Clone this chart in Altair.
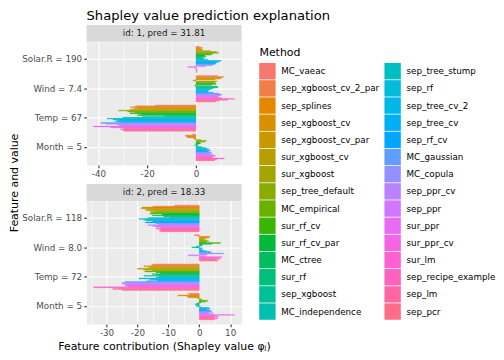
import math
import altair as alt
import pandas as pd

# ---------------- data ----------------
methods = ["MC_vaeac", "sep_xgboost_cv_2_par", "sep_splines", "sep_xgboost_cv",
           "sep_xgboost_cv_par", "sur_xgboost_cv", "sur_xgboost", "sep_tree_default",
           "MC_empirical", "sur_rf_cv", "sur_rf_cv_par", "MC_ctree", "sur_rf",
           "sep_xgboost", "MC_independence", "sep_tree_stump", "sep_rf", "sep_tree_cv_2",
           "sep_tree_cv", "sep_rf_cv", "MC_gaussian", "MC_copula", "sep_ppr_cv", "sep_ppr",
           "sur_ppr", "sur_ppr_cv", "sur_lm", "sep_recipe_example", "sep_lm", "sep_pcr"]

features_1 = ["Solar.R = 190", "Wind = 7.4", "Temp = 67", "Month = 5"]
features_2 = ["Solar.R = 118", "Wind = 8.0", "Temp = 72", "Month = 5"]
strip_1 = "id: 1, pred = 31.81"
strip_2 = "id: 2, pred = 18.33"

id1_solar = [1.2, 2.5, 2.0, 2.8, 2.3, 6.0, 8.5, 9.3, 7.0, 6.2, 3.5, 4.0, 2.5, 3.5, 3.0,
             5.0, 10.3, 9.5, 8.5, 8.0, 7.6, 6.5, 4.0, -3.4, -0.5, 0.4, 0.3, 0.5, 0.2, 0.3]
id1_wind = [9.0, 11.3, 10.5, 10.0, 7.8, -1.2, 8.6, 7.5, 8.0, 8.2, 6.5, -0.5, 8.8, 9.0, 7.0,
            6.0, 5.2, 5.0, 4.8, 7.0, 9.5, 10.6, 10.0, 9.2, 9.0, 10.5, 15.8, 13.0, 9.5, 8.0]
id1_temp = [-16.6, -24.8, -26.8, -24.0, -25.5, -27.0, -31.7, -28.0, -25.0, -27.0, -22.7,
            -24.0, -13.0, -22.0, -30.0, -36.5, -34.0, -32.0, -33.0, -31.0, -39.0, -37.0,
            -32.0, -31.0, -42.0, -35.0, -29.5, -31.0, -30.0, -29.5]
id1_month = [-1.5, -4.4, -4.0, -3.5, -1.0, -0.5, 2.0, 4.2, 3.5, 1.5, 1.8, 0.8, -0.5, 1.0, 2.5,
             4.0, 5.2, 4.5, 5.8, 5.0, 6.0, 6.5, 5.5, 7.0, 7.9, 7.0, 6.5, 11.6, 8.5, 7.5]

id2_solar = [-8.0, -15.0, -18.5, -18.8, -17.0, -17.4, -16.0, -14.0, -15.5, -16.0, -12.0,
             -15.2, -11.5, -9.5, -16.5, -19.5, -18.0, -17.0, -15.0, -17.4, -14.0, -13.0,
             -16.6, -15.0, -14.0, -12.5, -14.0, -12.5, -13.0, -12.5]
id2_wind = [-1.6, -0.5, 3.5, 3.0, 2.0, 1.5, 2.5, 3.0, 2.0, 6.8, 4.0, 1.0, 0.8, -1.0, -2.4,
            1.0, 0.5, 1.0, 2.0, 3.5, 4.0, 7.8, 2.5, -3.6, 2.0, 7.3, 6.0, 6.8, 5.5, 6.0]
id2_temp = [-15.0, -15.4, -17.9, -16.0, -16.5, -20.0, -18.0, -15.0, -17.6, -14.0, -12.5,
            -15.2, -14.0, -17.9, -13.0, -14.0, -19.5, -16.0, -13.5, -17.0, -24.0, -25.0,
            -24.9, -23.5, -24.0, -23.0, -34.2, -26.0, -28.0, -25.0]
id2_month = [-3.5, -3.0, -6.9, -4.0, -3.5, -0.5, 0.5, 1.0, 2.8, 2.0, 0.5, -0.8, -1.3, -0.5,
             -1.0, 0.5, 3.0, 3.5, 2.5, 3.5, 4.0, 3.0, 4.5, 3.0, 11.4, 5.0, 6.2, 4.5, 6.0, 5.0]

title_text = "Shapley value prediction explanation"
y_title = "Feature and value"
x_title = "Feature contribution (Shapley value \u03c6\u2c7c)"
legend_title = "Method"


# ---------------- style helpers ----------------
def hcl_hex(h, c=100.0, l=65.0):
    hr = math.radians(h)
    U, V = c * math.cos(hr), c * math.sin(hr)
    Y = 100.0 * ((l + 16.0) / 116.0) ** 3
    Xn, Yn, Zn = 95.047, 100.0, 108.883
    den = Xn + 15 * Yn + 3 * Zn
    un, vn = 4 * Xn / den, 9 * Yn / den
    u, v = U / (13 * l) + un, V / (13 * l) + vn
    X = 9 * Y * u / (4 * v)
    Z = 3 * Y / v - X / 3 - 5 * Y
    X, Y, Z = X / 100, Y / 100, Z / 100
    rgb = [3.240479 * X - 1.537150 * Y - 0.498535 * Z,
           -0.969256 * X + 1.875992 * Y + 0.041556 * Z,
           0.055648 * X - 0.204043 * Y + 1.057311 * Z]
    out = []
    for t in rgb:
        t = 12.92 * t if t <= 0.0031308 else 1.055 * t ** (1 / 2.4) - 0.055
        out.append(int(round(255 * min(1.0, max(0.0, t)))))
    return "#%02X%02X%02X" % tuple(out)


palette = [hcl_hex(15 + 360.0 * i / 30) for i in range(30)]

FONT = "DejaVu Sans"
LAB = "#4D4D4D"
W, H = 156, 124


def long_df(features, series):
    rows = []
    for f, vals in zip(features, series):
        for m, v in zip(methods, vals):
            rows.append({"feature": f, "method": m, "phi": v})
    return pd.DataFrame(rows)


df1 = long_df(features_1, [id1_solar, id1_wind, id1_temp, id1_month])
df2 = long_df(features_2, [id2_solar, id2_wind, id2_temp, id2_month])

color_scale = alt.Scale(domain=methods, range=palette)
color_enc = alt.Color("method:N", scale=color_scale, legend=None)
stroke_enc = alt.Stroke("method:N", scale=color_scale, legend=None)


def bar_layer(df, features, major, minor, xtitle):
    lo, hi = df["phi"].min(), df["phi"].max()
    r = hi - lo
    dom = [lo - 0.05 * r, hi + 0.05 * r]
    vals = [v for v in range(-100, 101, minor) if dom[0] <= v <= dom[1]]
    test = f"datum.value % {major} === 0"
    axis_kw = dict(
        values=vals,
        labelExpr=f"{test} ? '' + datum.value : ''",
        grid=True, gridColor="white",
        gridWidth={"condition": {"test": test, "value": 1.2}, "value": 0.6},
        tickOpacity={"condition": {"test": test, "value": 1}, "value": 0},
        tickSize=2.75, tickColor="#333333", tickWidth=1.1,
        labelFontSize=8.8, labelColor=LAB, labelPadding=2.2,
        labelFlush=False, labelOverlap=False, domain=False,
        titleFontSize=11, titleFontWeight="normal", titleColor="black", titlePadding=3,
    )
    axis_kw["title"] = xtitle if xtitle else None
    return alt.Chart(df).mark_bar(strokeWidth=0.35).encode(
        x=alt.X("phi:Q", scale=alt.Scale(domain=dom, nice=False), axis=alt.Axis(**axis_kw)),
        x2=alt.X2(datum=0),
        y=alt.Y("feature:N", sort=features,
                scale=alt.Scale(domain=features, paddingInner=0.1, paddingOuter=0.15),
                axis=alt.Axis(title=None, labelFontSize=8.8, labelColor=LAB, labelPadding=2.2,
                              tickSize=2.75, tickColor="#333333", tickWidth=1.1,
                              grid=True, gridColor="white", gridWidth=1.2,
                              domain=False, bandPosition=0.5)),
        yOffset=alt.YOffset("method:N", sort=methods,
                            scale=alt.Scale(domain=methods, paddingInner=0, paddingOuter=0)),
        color=color_enc,
        stroke=stroke_enc,
    )


def strip_layers(label):
    sdf = pd.DataFrame({"strip": [label]})
    rect = alt.Chart(sdf).mark_rect(color="#D9D9D9").encode(
        x=alt.value(0), x2=alt.value(W), y=alt.value(-17), y2=alt.value(0))
    txt = alt.Chart(sdf).mark_text(fontSize=8.8, color="#1A1A1A", baseline="middle",
                                   align="center").encode(
        x=alt.value(W / 2), y=alt.value(-8.5), text="strip:N")
    return [rect, txt]


# title and y-axis title
title_layer = alt.Chart(pd.DataFrame({"t": [title_text]})).mark_text(
    fontSize=13.2, align="left", baseline="alphabetic", color="black").encode(
    x=alt.value(0), y=alt.value(-21.5), text="t:N")
ytitle_layer = alt.Chart(pd.DataFrame({"t": [y_title]})).mark_text(
    fontSize=11, align="center", baseline="middle", angle=270, color="black").encode(
    x=alt.value(-72), y=alt.value(142), text="t:N")

# legend (two columns, filled column-wise)
leg_df = pd.DataFrame({"method": methods,
                       "col": [i // 15 for i in range(len(methods))],
                       "row": [i % 15 for i in range(len(methods))]})
leg_x = alt.X("col:Q", scale=alt.Scale(domain=[0, 1], range=[182, 308]), axis=None)
leg_y = alt.Y("row:O", scale=alt.Scale(domain=list(range(15)), range=[20.9, 280.0],
                                       paddingInner=0, paddingOuter=0), axis=None)
leg_sq = alt.Chart(leg_df).mark_square(size=272, opacity=1, filled=True).encode(
    x=leg_x, y=leg_y, color=color_enc)
leg_txt = alt.Chart(leg_df).mark_text(align="left", baseline="middle", dx=14,
                                      fontSize=8.8, color="black").encode(
    x=leg_x, y=leg_y, text="method:N")
leg_title = alt.Chart(pd.DataFrame({"t": [legend_title]})).mark_text(
    fontSize=11, align="left", baseline="alphabetic", color="black").encode(
    x=alt.value(174), y=alt.value(14), text="t:N")

view_bg = alt.ViewBackground(fill="#EBEBEB", stroke="transparent")

p1 = alt.layer(
    bar_layer(df1, features_1, 20, 10, None),
    *strip_layers(strip_1), title_layer, ytitle_layer, leg_sq, leg_txt, leg_title,
).resolve_scale(x="independent", y="independent").properties(width=W, height=H, view=view_bg)

p2 = alt.layer(
    bar_layer(df2, features_2, 10, 5, x_title),
    *strip_layers(strip_2),
).properties(width=W, height=H, view=view_bg)

chart = alt.vconcat(p1, p2, spacing=36, bounds="flush").properties(
    padding=0
).configure(font=FONT).configure_view(stroke="transparent")

chart.save("out.html", embed_options={"renderer": "svg", "actions": False})
